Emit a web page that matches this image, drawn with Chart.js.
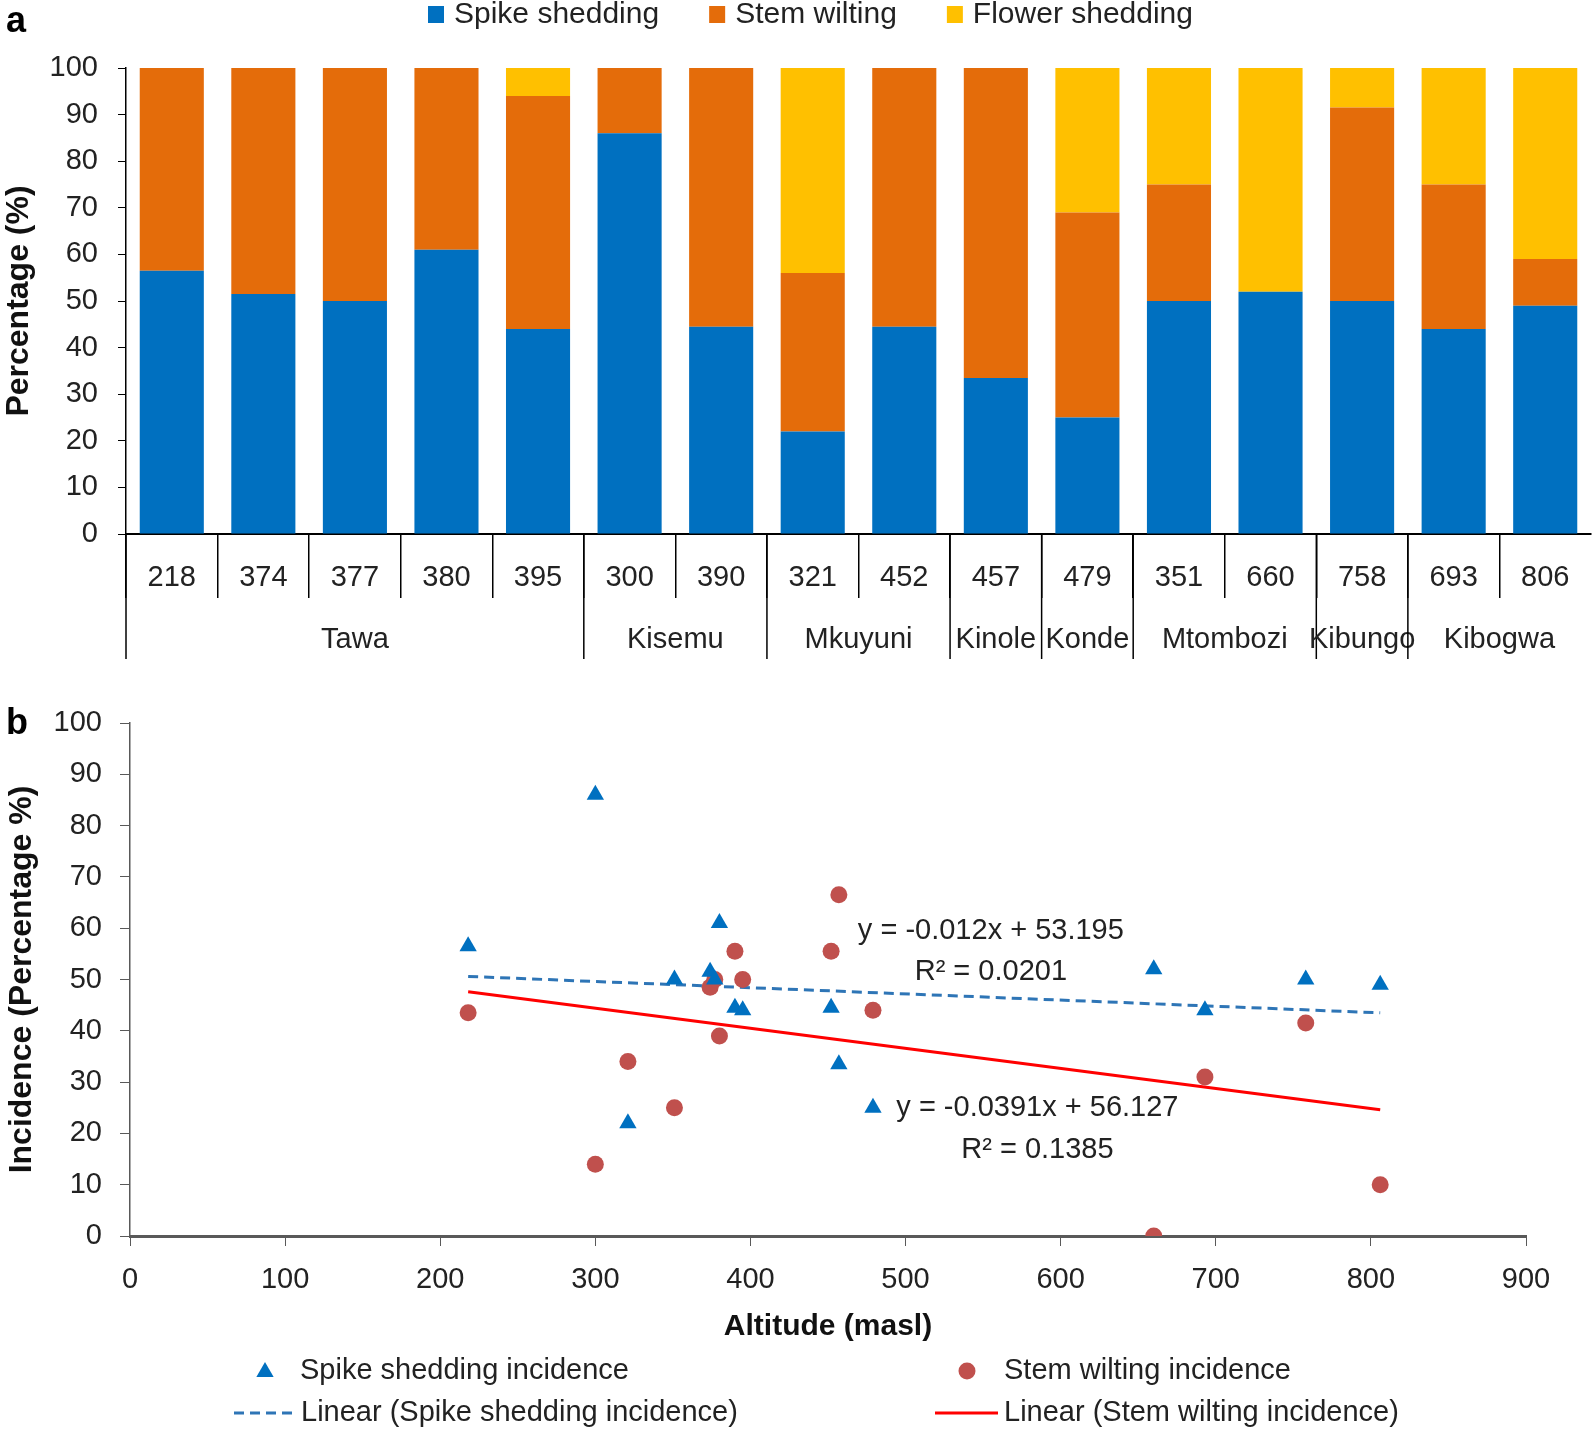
<!DOCTYPE html>
<html>
<head>
<meta charset="utf-8">
<title>Spike shedding, stem wilting and flower shedding</title>
<script src="https://cdn.jsdelivr.net/npm/chart.js@4.4.1/dist/chart.umd.min.js"></script>
<style>
  html, body { margin: 0; padding: 0; background: #fff; }
  .wrap { position: relative; width: 1594px; }
  #wrapA { height: 665px; }
  #wrapB { height: 765px; }
</style>
</head>
<body>
<div class="wrap" id="wrapA"><canvas id="chartA"></canvas></div>
<div class="wrap" id="wrapB"><canvas id="chartB"></canvas></div>
<script>
// altitude (masl) of each sampled farm, grouped by village
const altitudes = ['218', '374', '377', '380', '395', '300', '390', '321', '452', '457', '479', '351', '660', '758', '693', '806'];
const villages = ['Tawa', 'Kisemu', 'Mkuyuni', 'Kinole', 'Konde', 'Mtombozi', 'Kibungo', 'Kibogwa'];
const villageSizes = [5, 2, 2, 1, 1, 2, 1, 2];

// percentages per farm
const spikeShedding = [56.5, 51.5, 50, 61, 44, 86, 44.5, 22, 44.5, 33.5, 25, 50, 52, 50, 44, 49];
const stemWilting = [43.5, 48.5, 50, 39, 50, 14, 55.5, 34, 55.5, 66.5, 44, 25, 0, 41.5, 31, 10];
const flowerShedding = [0, 0, 0, 0, 6, 0, 0, 44, 0, 0, 31, 25, 48, 8.5, 25, 41];

// linear trend lines (end points) and their labels
const trendX = [218, 806];
const spikeTrend = [50.6, 43.5];
const stemTrend = [47.6, 24.6];
const trendEquations = ['y = -0.012x + 53.195', 'y = -0.0391x + 56.127'];
const trendR2 = ['R² = 0.0201', 'R² = 0.1385'];

const percentTicks = [0, 10, 20, 30, 40, 50, 60, 70, 80, 90, 100];
const altitudeTicks = [0, 100, 200, 300, 400, 500, 600, 700, 800, 900];

const FONT = '"Liberation Sans", Arial, sans-serif';
const TEXT = '#222';
const BLUE = '#0070C0', ORANGE = '#E46C0A', YELLOW = '#FFC000';
const RED_DOT = '#C0504D', TREND_BLUE = '#2E75B6', TREND_RED = '#FF0000';

// ---------- panel a ----------
const panelA = {
  id: 'panelA',
  afterDraw(chart) {
    const ctx = chart.ctx;
    const xs = chart.scales.x;
    const area = chart.chartArea;
    ctx.save();

    // panel letter
    ctx.fillStyle = '#000';
    ctx.font = 'bold 36px ' + FONT;
    ctx.textBaseline = 'middle';
    ctx.textAlign = 'left';
    ctx.fillText('a', 6, 22);

    // legend
    const items = [['Spike shedding', BLUE], ['Stem wilting', ORANGE], ['Flower shedding', YELLOW]];
    ctx.font = '30px ' + FONT;
    let lx = 428;
    items.forEach(([label, col]) => {
      ctx.fillStyle = col;
      ctx.fillRect(lx, 6, 16, 17);
      ctx.fillStyle = TEXT;
      ctx.fillText(label, lx + 26, 15);
      lx += 26 + ctx.measureText(label).width + 50;
    });

    // village groups under the altitude labels
    const half = (xs.getPixelForValue(1) - xs.getPixelForValue(0)) / 2;
    ctx.strokeStyle = '#000';
    ctx.lineWidth = 1.5;
    ctx.textAlign = 'center';
    ctx.font = '29px ' + FONT;
    let start = 0;
    villageSizes.forEach((n, g) => {
      const left = xs.getPixelForValue(start) - half;
      const right = xs.getPixelForValue(start + n - 1) + half;
      ctx.beginPath();
      ctx.moveTo(left, area.bottom);
      ctx.lineTo(left, 659);
      ctx.stroke();
      ctx.fillStyle = TEXT;
      ctx.fillText(villages[g], (left + right) / 2, 640);
      start += n;
    });
    ctx.restore();
  }
};

new Chart(document.getElementById('chartA'), {
  type: 'bar',
  data: {
    labels: altitudes,
    datasets: [
      { label: 'Spike shedding', data: spikeShedding, backgroundColor: BLUE },
      { label: 'Stem wilting', data: stemWilting, backgroundColor: ORANGE },
      { label: 'Flower shedding', data: flowerShedding, backgroundColor: YELLOW }
    ]
  },
  options: {
    responsive: true,
    maintainAspectRatio: false,
    animation: false,
    devicePixelRatio: 1,
    layout: { padding: { top: 68, right: 3, left: 0, bottom: 0 } },
    datasets: { bar: { barPercentage: 0.7, categoryPercentage: 1, borderWidth: 0 } },
    plugins: { legend: { display: false }, tooltip: { enabled: false } },
    scales: {
      x: {
        stacked: true,
        grid: {
          offset: true,
          drawOnChartArea: false,
          tickLength: 64,
          lineWidth: 1.5,
          color: c => (c.type === 'tick' ? '#000' : 'rgba(0,0,0,0)')
        },
        border: { color: '#000', width: 2 },
        ticks: { font: { family: FONT, size: 29 }, color: TEXT, padding: -37, maxRotation: 0, autoSkip: false },
        afterFit: s => { s.height = 131; }
      },
      y: {
        stacked: true,
        min: 0,
        max: 100,
        afterBuildTicks: s => { s.ticks = percentTicks.map(v => ({ value: v })); },
        ticks: { font: { family: FONT, size: 29 }, color: TEXT, padding: 20 },
        grid: { drawOnChartArea: false, tickLength: 8, color: '#000' },
        border: { color: '#000', width: 1.5 },
        title: { display: true, text: 'Percentage (%)', color: '#111', font: { family: FONT, size: 32, weight: 'bold' }, padding: 0 },
        afterFit: s => { s.width = 126; }
      }
    }
  },
  plugins: [panelA]
});

// ---------- panel b ----------
function triangle(ctx, x, y, r) {
  ctx.beginPath();
  ctx.moveTo(x, y - r);
  ctx.lineTo(x + r * 0.866, y + r * 0.5);
  ctx.lineTo(x - r * 0.866, y + r * 0.5);
  ctx.closePath();
  ctx.fill();
}

const panelB = {
  id: 'panelB',
  afterDraw(chart) {
    const ctx = chart.ctx;
    const xs = chart.scales.x, ys = chart.scales.y;
    ctx.save();

    ctx.fillStyle = '#000';
    ctx.font = 'bold 36px ' + FONT;
    ctx.textBaseline = 'middle';
    ctx.textAlign = 'left';
    ctx.fillText('b', 6, 59);

    // trend equations
    ctx.font = '29px ' + FONT;
    ctx.fillStyle = TEXT;
    ctx.textAlign = 'center';
    const notes = [[555, 59.5, 51.5], [585, 25, 16.8]];
    notes.forEach(([ax, y1, y2], i) => {
      ctx.fillText(trendEquations[i], xs.getPixelForValue(ax), ys.getPixelForValue(y1));
      ctx.fillText(trendR2[i], xs.getPixelForValue(ax), ys.getPixelForValue(y2));
    });

    // legend
    ctx.textAlign = 'left';
    const r1 = 706, r2 = 748;
    ctx.fillStyle = BLUE;
    triangle(ctx, 265, r1 + 1, 10);
    ctx.fillStyle = RED_DOT;
    ctx.beginPath();
    ctx.arc(967, r1, 8.5, 0, Math.PI * 2);
    ctx.fill();

    ctx.lineWidth = 3;
    ctx.strokeStyle = TREND_BLUE;
    ctx.setLineDash([10, 6]);
    ctx.beginPath(); ctx.moveTo(234, r2); ctx.lineTo(295, r2); ctx.stroke();
    ctx.setLineDash([]);
    ctx.strokeStyle = TREND_RED;
    ctx.beginPath(); ctx.moveTo(935, r2); ctx.lineTo(998, r2); ctx.stroke();

    ctx.fillStyle = TEXT;
    ctx.fillText('Spike shedding incidence', 300, r1);
    ctx.fillText('Stem wilting incidence', 1004, r1);
    ctx.fillText('Linear (Spike shedding incidence)', 301, r2);
    ctx.fillText('Linear (Stem wilting incidence)', 1004, r2);
    ctx.restore();
  }
};

const altNum = altitudes.map(Number);

new Chart(document.getElementById('chartB'), {
  type: 'scatter',
  data: {
    datasets: [
      {
        label: 'Spike shedding incidence',
        data: altNum.map((a, i) => ({ x: a, y: spikeShedding[i] })),
        pointStyle: 'triangle', pointRadius: 10, backgroundColor: BLUE, borderWidth: 0, order: 1
      },
      {
        label: 'Stem wilting incidence',
        data: altNum.map((a, i) => ({ x: a, y: stemWilting[i] })),
        pointStyle: 'circle', pointRadius: 8.5, backgroundColor: RED_DOT, borderWidth: 0, order: 1
      },
      {
        type: 'line',
        label: 'Linear (Spike shedding incidence)',
        data: trendX.map((x, i) => ({ x, y: spikeTrend[i] })),
        borderColor: TREND_BLUE, borderWidth: 3, borderDash: [10, 6], pointRadius: 0, fill: false, order: 2
      },
      {
        type: 'line',
        label: 'Linear (Stem wilting incidence)',
        data: trendX.map((x, i) => ({ x, y: stemTrend[i] })),
        borderColor: TREND_RED, borderWidth: 3, pointRadius: 0, fill: false, order: 2
      }
    ]
  },
  options: {
    responsive: true,
    maintainAspectRatio: false,
    animation: false,
    devicePixelRatio: 1,
    layout: { padding: { top: 58, right: 68, left: 0, bottom: 0 } },
    plugins: { legend: { display: false }, tooltip: { enabled: false } },
    scales: {
      x: {
        type: 'linear',
        min: 0,
        max: 900,
        afterBuildTicks: s => { s.ticks = altitudeTicks.map(v => ({ value: v })); },
        ticks: { font: { family: FONT, size: 29 }, color: TEXT, padding: 17, maxRotation: 0 },
        grid: { drawOnChartArea: false, tickLength: 10, color: '#595959' },
        border: { color: '#595959', width: 3 },
        title: { display: true, text: 'Altitude (masl)', color: '#111', font: { family: FONT, size: 30, weight: 'bold' }, padding: { top: 0, bottom: 85 } },
        afterFit: s => { s.height = 194; }
      },
      y: {
        min: 0,
        max: 100,
        afterBuildTicks: s => { s.ticks = percentTicks.map(v => ({ value: v })); },
        ticks: { font: { family: FONT, size: 29 }, color: TEXT, padding: 18 },
        grid: { drawOnChartArea: false, tickLength: 10, color: '#595959' },
        border: { color: '#595959', width: 1.5 },
        title: { display: true, text: 'Incidence (Percentage %)', color: '#111', font: { family: FONT, size: 32, weight: 'bold' }, padding: { top: 3, bottom: 0 } },
        afterFit: s => { s.width = 130; }
      }
    }
  },
  plugins: [panelB]
});
</script>
</body>
</html>
